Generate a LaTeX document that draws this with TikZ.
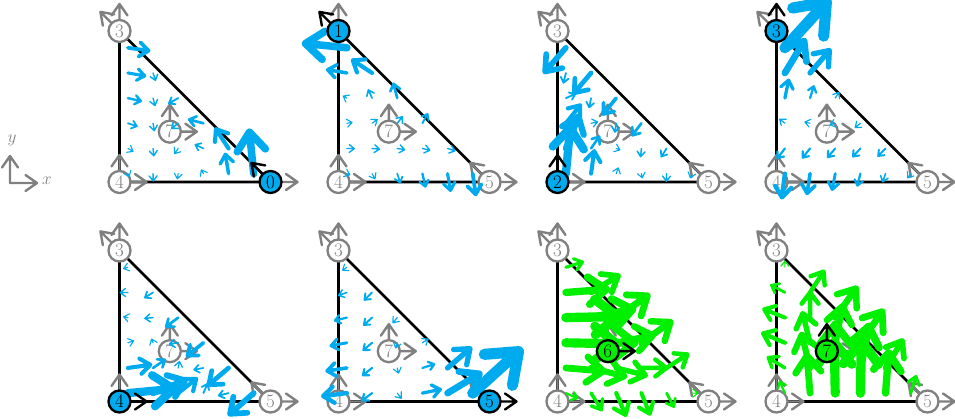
\documentclass[tikz,border=0pt]{standalone}
\usepackage{tikz}
\definecolor{fblue}{RGB}{0,170,238}
\definecolor{fgreen}{RGB}{0,240,0}
\definecolor{dgray}{RGB}{128,128,128}
\newcommand\dofFont{\fontsize{19}{22}\selectfont}
\tikzset{
 edgeline/.style={black, line width=2.6pt, line cap=round, line join=round},
 dofline/.style={line width=2.4pt, line cap=round, line join=round},
 dofg/.style={circle, draw=dgray, fill=white, line width=2.3pt, text=dgray, minimum size=22pt, inner sep=0pt, font=\dofFont},
 dofb/.style={dofg, draw=black, fill=fblue, text=black},
 dofgr/.style={dofg, draw=black, fill=fgreen, text=black},
 axlabel/.style={text=dgray, font=\dofFont, inner sep=0pt},
}
% DOF arrow: colour, location, angle
\newcommand\darr[3]{%
 \begin{scope}[shift={#2}, rotate=#3]
 \draw[dofline, #1] (0pt,0pt) -- (27pt,0pt) (15.5pt,8pt) -- (27pt,0pt) -- (15.5pt,-8pt);
 \end{scope}}
% vector field: ux, uy (in \X,\Y), colour, px per unit
\newcommand\vfield[4]{%
 \foreach \i in {0,...,5}{%
  \foreach \j in {0,...,5}{%
   \pgfmathtruncatemacro\ssum{\i+\j}%
   \ifnum\ssum<6\relax
    \pgfmathsetmacro\X{(3*\i+1)/18}%
    \pgfmathsetmacro\Y{(3*\j+1)/18}%
    \pgfmathsetmacro\ux{#1}%
    \pgfmathsetmacro\uy{#2}%
    \pgfmathsetmacro\L{#4*veclen(\ux,\uy)}%
    \ifdim\L pt>0.4pt\relax
     \pgfmathsetmacro\ang{atan2(\uy,\ux)}%
     \pgfmathsetmacro\w{max(1.1,0.18*\L)}%
     \pgfmathsetmacro\hl{max(6.5,0.556*\L)}%
     \pgfmathsetmacro\hx{\L-0.79*\hl}%
     \pgfmathsetmacro\hy{0.61*\hl}%
     \begin{scope}[shift={(\X,\Y)}, rotate=\ang]
      \draw[#3, line width=\w pt, line cap=round, line join=round] (0pt,0pt) -- (\L pt,0pt) (\hx pt,\hy pt) -- (\L pt,0pt) -- (\hx pt,-\hy pt);
     \end{scope}
    \fi
   \fi
  }}}
\newcommand\tri{\draw[edgeline] (0,0) -- (1,0) -- (0,1) -- cycle;}
\begin{document}
\begin{tikzpicture}[x=1pt, y=-1pt]
\useasboundingbox (0,0) rectangle (955,419);
% axes indicator
\darr{dgray}{(10,183)}{0}
\darr{dgray}{(10,183)}{90}
\node[axlabel] (lx) at (47,181) {$x$};
\node[axlabel] (ly) at (12,140) {$y$};
% ---------- panel 0
\begin{scope}[shift={(119.5,182)}, x=151pt, y=151pt]
 \tri
 \darr{dgray}{(0,0)}{90}\darr{dgray}{(0,0)}{0}\node[dofg] (aV0) at (0,0) {4};
 \darr{dgray}{(0,1)}{135}\darr{dgray}{(0,1)}{90}\node[dofg] (aV2) at (0,1) {3};
 \darr{dgray}{(1/3,1/3)}{0}\darr{dgray}{(1/3,1/3)}{90}\node[dofg] (aC) at (1/3,1/3) {7};
 \darr{dgray}{(1,0)}{0}
 \vfield{2*\Y-8*\X*\Y}{-4*\X+8*\X*\X}{fblue}{15}
 \darr{black}{(1,0)}{135}\node[dofb] (aV1) at (1,0) {0};
\end{scope}
% ---------- panel 1
\begin{scope}[shift={(338.5,182)}, x=151pt, y=151pt]
 \tri
 \darr{dgray}{(0,0)}{90}\darr{dgray}{(0,0)}{0}\node[dofg] (bV0) at (0,0) {4};
 \darr{dgray}{(1,0)}{135}\darr{dgray}{(1,0)}{0}\node[dofg] (bV1) at (1,0) {5};
 \darr{dgray}{(1/3,1/3)}{0}\darr{dgray}{(1/3,1/3)}{90}\node[dofg] (bC) at (1/3,1/3) {7};
 \darr{dgray}{(0,1)}{90}
 \vfield{4*\Y-8*\Y*\Y}{-2*\X+8*\X*\Y}{fblue}{15}
 \darr{black}{(0,1)}{135}\node[dofb] (bV2) at (0,1) {1};
\end{scope}
% ---------- panel 2
\begin{scope}[shift={(557.5,182)}, x=151pt, y=151pt]
 \tri
 \darr{dgray}{(1,0)}{135}\darr{dgray}{(1,0)}{0}\node[dofg] (cV1) at (1,0) {5};
 \darr{dgray}{(0,1)}{135}\darr{dgray}{(0,1)}{90}\node[dofg] (cV2) at (0,1) {3};
 \darr{dgray}{(1/3,1/3)}{0}\darr{dgray}{(1/3,1/3)}{90}\node[dofg] (cC) at (1/3,1/3) {7};
 \darr{dgray}{(0,0)}{0}
 \vfield{6*\Y-8*\X*\Y-8*\Y*\Y}{4-12*\X-6*\Y+8*\X*\X+8*\X*\Y}{fblue}{15}
 \darr{black}{(0,0)}{90}\node[dofb] (cV0) at (0,0) {2};
\end{scope}
% ---------- panel 3
\begin{scope}[shift={(776.5,182)}, x=151pt, y=151pt]
 \tri
 \darr{dgray}{(0,0)}{90}\darr{dgray}{(0,0)}{0}\node[dofg] (dV0) at (0,0) {4};
 \darr{dgray}{(1,0)}{135}\darr{dgray}{(1,0)}{0}\node[dofg] (dV1) at (1,0) {5};
 \darr{dgray}{(1/3,1/3)}{0}\darr{dgray}{(1/3,1/3)}{90}\node[dofg] (dC) at (1/3,1/3) {7};
 \darr{dgray}{(0,1)}{135}
 \vfield{-4*\Y+8*\Y*\Y}{-2+2*\X+6*\Y-8*\X*\Y}{fblue}{15}
 \darr{black}{(0,1)}{90}\node[dofb] (dV2) at (0,1) {3};
\end{scope}
% ---------- panel 4
\begin{scope}[shift={(119.5,401.5)}, x=151pt, y=151pt]
 \tri
 \darr{dgray}{(1,0)}{135}\darr{dgray}{(1,0)}{0}\node[dofg] (eV1) at (1,0) {5};
 \darr{dgray}{(0,1)}{135}\darr{dgray}{(0,1)}{90}\node[dofg] (eV2) at (0,1) {3};
 \darr{dgray}{(1/3,1/3)}{0}\darr{dgray}{(1/3,1/3)}{90}\node[dofg] (eC) at (1/3,1/3) {7};
 \darr{dgray}{(0,0)}{90}
 \vfield{4-6*\X-12*\Y+8*\X*\Y+8*\Y*\Y}{6*\X-8*\X*\X-8*\X*\Y}{fblue}{15}
 \darr{black}{(0,0)}{0}\node[dofb] (eV0) at (0,0) {4};
\end{scope}
% ---------- panel 5
\begin{scope}[shift={(338.5,401.5)}, x=151pt, y=151pt]
 \tri
 \darr{dgray}{(0,0)}{90}\darr{dgray}{(0,0)}{0}\node[dofg] (fV0) at (0,0) {4};
 \darr{dgray}{(0,1)}{135}\darr{dgray}{(0,1)}{90}\node[dofg] (fV2) at (0,1) {3};
 \darr{dgray}{(1/3,1/3)}{0}\darr{dgray}{(1/3,1/3)}{90}\node[dofg] (fC) at (1/3,1/3) {7};
 \darr{dgray}{(1,0)}{135}
 \vfield{-2+6*\X+2*\Y-8*\X*\Y}{-4*\X+8*\X*\X}{fblue}{15}
 \darr{black}{(1,0)}{0}\node[dofb] (fV1) at (1,0) {5};
\end{scope}
% ---------- panel 6
\begin{scope}[shift={(557.5,401.5)}, x=151pt, y=151pt]
 \tri
 \darr{dgray}{(0,0)}{90}\darr{dgray}{(0,0)}{0}\node[dofg] (gV0) at (0,0) {4};
 \darr{dgray}{(1,0)}{135}\darr{dgray}{(1,0)}{0}\node[dofg] (gV1) at (1,0) {5};
 \darr{dgray}{(0,1)}{135}\darr{dgray}{(0,1)}{90}\node[dofg] (gV2) at (0,1) {3};
 \darr{dgray}{(1/3,1/3)}{90}
 \vfield{16*\Y-8*\X*\Y-16*\Y*\Y}{-8*\X+8*\X*\X+16*\X*\Y}{fgreen}{14}
 \darr{black}{(1/3,1/3)}{0}\node[dofgr] (gC) at (1/3,1/3) {6};
\end{scope}
% ---------- panel 7
\begin{scope}[shift={(776.5,401.5)}, x=151pt, y=151pt]
 \tri
 \darr{dgray}{(0,0)}{90}\darr{dgray}{(0,0)}{0}\node[dofg] (hV0) at (0,0) {4};
 \darr{dgray}{(1,0)}{135}\darr{dgray}{(1,0)}{0}\node[dofg] (hV1) at (1,0) {5};
 \darr{dgray}{(0,1)}{135}\darr{dgray}{(0,1)}{90}\node[dofg] (hV2) at (0,1) {3};
 \darr{dgray}{(1/3,1/3)}{0}
 \vfield{-8*\Y+16*\X*\Y+8*\Y*\Y}{16*\X-16*\X*\X-8*\X*\Y}{fgreen}{14}
 \darr{black}{(1/3,1/3)}{90}\node[dofgr] (hC) at (1/3,1/3) {7};
\end{scope}
\end{tikzpicture}
\end{document}
